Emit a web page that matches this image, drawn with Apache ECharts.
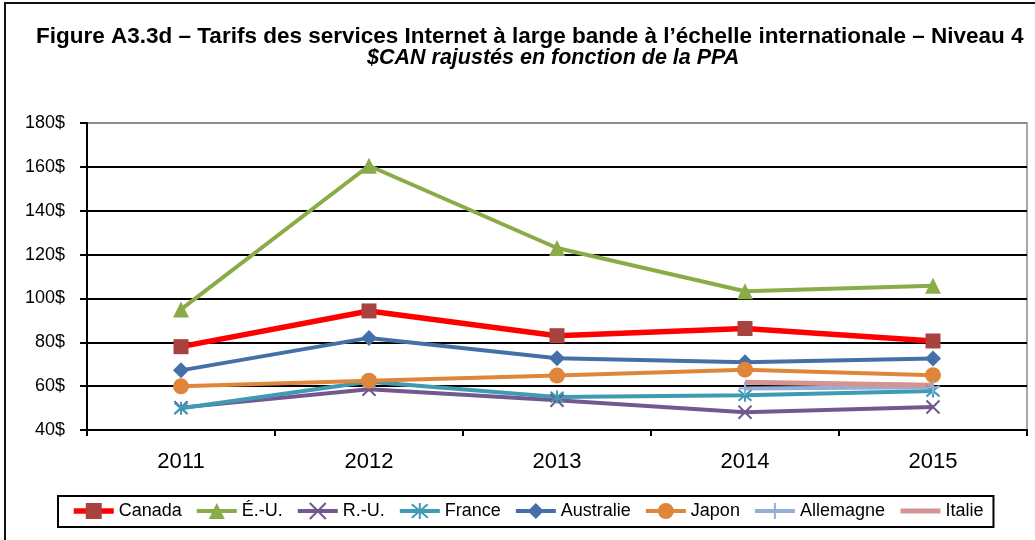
<!DOCTYPE html>
<html>
<head>
<meta charset="utf-8">
<script src="https://cdn.jsdelivr.net/npm/echarts@6/dist/echarts.min.js"></script>
<style>
  html, body { margin: 0; padding: 0; background: #fff; }
  #chart { width: 1035px; height: 540px; }
</style>
</head>
<body>
<div id="chart"></div>
<script>
// années (axe des catégories)
const years = ['2011', '2012', '2013', '2014', '2015'];
// tarifs en $CAN rajustés PPA
const canada = [78, 94.3, 83, 86.3, 80.6];
const etatsUnis = [95, 160.5, 123, 103.3, 105.8];
const royaumeUni = [50.2, 58.6, 53.6, 48.1, 50.5];
const france = [49.9, 62, 55, 55.8, 57.8];
const australie = [67.2, 82, 72.7, 70.9, 72.6];
const japon = [59.9, 62.5, 64.8, 67.5, 65];
const allemagne = ['-', '-', '-', 58.9, 59.5];
const italie = ['-', '-', '-', 61.8, 60.4];
// axe des y
const yMin = 40, yMax = 180, yStep = 20;

const crossPath = 'path://M0,0L10,10M10,0L0,10';
const starPath = 'path://M0,0L10,10M10,0L0,10M5,-1L5,11';
const plusPath = 'path://M5,0L5,10M0,5L10,5';

const chart = echarts.init(document.getElementById('chart'));

function ligne (name, data, color, width, symbol, size, markColor, stroke) {
  return {
    name: name,
    type: 'line',
    data: data,
    symbol: symbol,
    symbolSize: size,
    showAllSymbol: true,
    lineStyle: { color: color, width: width },
    itemStyle: stroke
      ? { color: 'rgba(0,0,0,0)', borderColor: markColor, borderWidth: 2 }
      : { color: markColor, borderWidth: 0 },
    emphasis: { disabled: true },
    z: 3,
  };
}

chart.setOption({
  animation: false,
  textStyle: { fontFamily: 'Liberation Sans, Arial, sans-serif', color: '#000' },
  graphic: [{
    type: 'rect',
    shape: { x: 5, y: 3, width: 1100, height: 600 },
    style: { fill: 'none', stroke: '#111', lineWidth: 2 },
    silent: true,
  }],
  title: [{
    text: 'Figure A3.3d – Tarifs des services Internet à large bande à l’échelle internationale – Niveau 4',
    left: 36,
    top: 25,
    padding: 0,
    textStyle: { fontSize: 22.5, fontWeight: 'bold', color: '#000' },
  }, {
    text: '$CAN rajustés en fonction de la PPA',
    left: 367,
    top: 47,
    padding: 0,
    textStyle: { fontSize: 21.5, fontWeight: 'bold', fontStyle: 'italic', color: '#000' },
  }],
  legend: {
    left: 58,
    top: 496,
    padding: [6, 10, 7, 13],
    itemGap: 13,
    itemWidth: 40,
    itemHeight: 20,
    borderColor: '#000',
    borderWidth: 2,
    lineStyle: { width: 'inherit' },
    textStyle: { fontSize: 18, color: '#000' },
  },
  grid: {
    left: 87,
    right: 8,
    top: 123,
    bottom: 110,
    show: true,
    borderColor: '#8c8c8c',
    borderWidth: 1.5,
  },
  xAxis: {
    type: 'category',
    data: years,
    boundaryGap: true,
    axisLine: { lineStyle: { color: '#000', width: 2 } },
    axisTick: { show: true, length: 6, lineStyle: { color: '#000', width: 2 } },
    axisLabel: { fontSize: 22, color: '#000', margin: 21 },
  },
  yAxis: {
    type: 'value',
    min: yMin,
    max: yMax,
    interval: yStep,
    axisLine: { show: true, lineStyle: { color: '#000', width: 2 } },
    axisTick: { show: true, length: 7, lineStyle: { color: '#000', width: 2 } },
    axisLabel: { fontSize: 18, color: '#000', margin: 22, formatter: '{value}$' },
    splitLine: {
      lineStyle: {
        color: ['#000', '#000', '#000', '#000', '#000', '#000', '#000', '#8c8c8c'],
        width: 2,
      },
    },
  },
  series: [
    ligne('Canada', canada, '#ff0000', 5.5, 'rect', 15, '#a8423f'),
    ligne('É.-U.', etatsUnis, '#8aac48', 4, 'triangle', 16, '#8aac48'),
    ligne('R.-U.', royaumeUni, '#74578f', 4, crossPath, 13, '#74578f', true),
    ligne('France', france, '#3f9bb3', 4, starPath, 13, '#3f9bb3', true),
    ligne('Australie', australie, '#4470a8', 4, 'diamond', 16, '#4470a8'),
    ligne('Japon', japon, '#e0863a', 4, 'circle', 16, '#e0863a'),
    ligne('Allemagne', allemagne, '#93afd6', 4, plusPath, 13, '#93afd6', true),
    ligne('Italie', italie, '#d69393', 5, 'none', 0, 'rgba(0,0,0,0)'),
  ],
});
</script>
</body>
</html>
